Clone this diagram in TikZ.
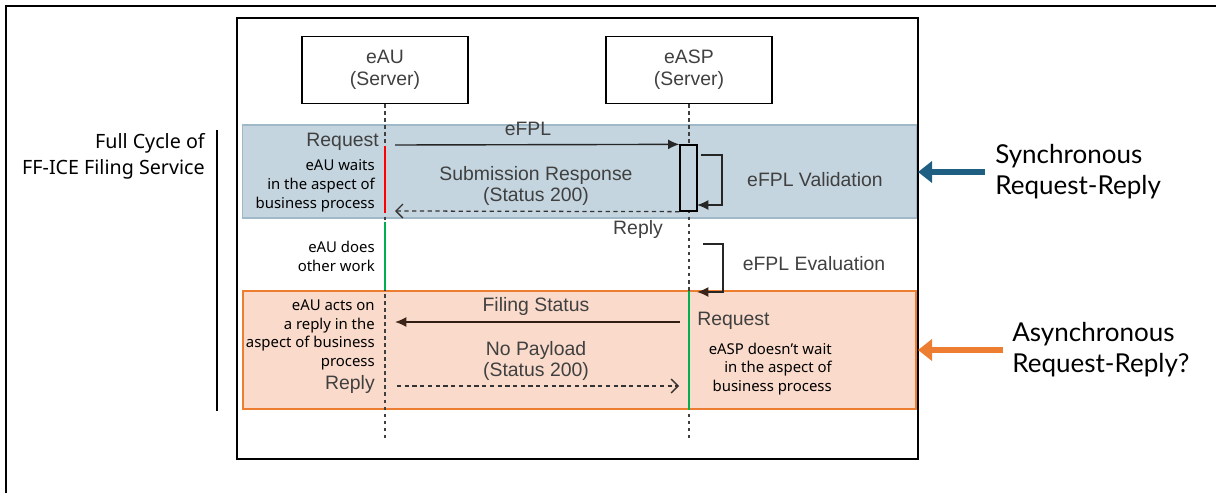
\documentclass[tikz,border=0pt]{standalone}
\usepackage{fontspec}
\setmainfont{Liberation Sans}
\newfontfamily\notefont{Noto Sans}
\newfontfamily\sidefont{Lato}
\usetikzlibrary{arrows.meta,positioning}
\definecolor{txtgray}{RGB}{64,64,64}
\definecolor{syncfill}{RGB}{196,213,223}
\definecolor{syncline}{RGB}{160,185,200}
\definecolor{asyncfill}{RGB}{250,219,203}
\definecolor{asyncline}{RGB}{237,125,49}
\definecolor{syncarrow}{RGB}{31,96,130}
\definecolor{headbrown}{RGB}{60,36,25}
\definecolor{waitred}{RGB}{255,0,0}
\definecolor{workgreen}{RGB}{0,176,80}
\begin{document}
\begin{tikzpicture}[x=0.025cm, y=-0.025cm,
    srv/.style={draw, line width=1pt, minimum width=4.15cm, minimum height=1.675cm,
      align=center, text=txtgray, font=\fontsize{13.8}{15.6}\selectfont},
    life/.style={draw=black!75, line width=1.1pt, dash pattern=on 2.5pt off 2.5pt},
    msg/.style={draw=black!85, line width=1pt, -{Latex[length=8pt, width=7pt]}},
    rep/.style={draw=black!80, line width=0.9pt, dash pattern=on 3pt off 2.5pt,
      -{Straight Barb[length=5pt, width=10pt]}},
    msgtxt/.style={inner sep=0pt, text=txtgray, align=center,
      font=\fontsize{13.8}{15.6}\selectfont},
    notetxt/.style={inner sep=0pt, align=right, font=\notefont\fontsize{10.6}{13.4}\selectfont},
    sidetxt/.style={inner sep=0pt, align=left, font=\sidefont\fontsize{18.5}{22}\selectfont},
    side/.style={line width=4.2pt, -{Triangle[length=10pt, width=15pt]}}]
  \useasboundingbox (0,0) rectangle (1216,493);

  % outer page lines and inner frame
  \draw[line width=1.4pt] (6,493) -- (6,6) -- (1216,6);
  \node[draw, line width=1.6pt, minimum width=17.025cm, minimum height=11.025cm, inner sep=0pt]
    (frame) at (577.5,238.5) {};

  % the two phases
  \node[draw=syncline, fill=syncfill, line width=0.8pt, minimum width=16.825cm,
    minimum height=2.325cm, inner sep=0pt] (sync) at (579.5,171.5) {};
  \node[draw=asyncline, fill=asyncfill, line width=1.3pt, minimum width=16.825cm,
    minimum height=2.95cm, inner sep=0pt] (async) at (579.5,350) {};

  % servers and lifelines
  \node[srv] (eau) at (385,70) {eAU\\(Server)};
  \node[srv] (easp) at (689,70) {eASP\\(Server)};
  \coordinate (eaubot) at (385,441);
  \coordinate (easpbot) at (689,441);
  \draw[life] (eau) -- (eaubot);
  \draw[life] (easp) -- (easpbot);

  % waiting / working marks
  \coordinate (redtop) at (385,146);
  \coordinate (redbot) at (385,213);
  \coordinate (grntop) at (385,222);
  \coordinate (grnbot) at (385,290);
  \coordinate (agrtop) at (689,291);
  \coordinate (agrbot) at (689,410);
  \draw[waitred, line width=2pt] (redtop) -- (redbot);
  \draw[workgreen, line width=2pt] (grntop) -- (grnbot);
  \draw[workgreen, line width=2pt] (agrtop) -- (agrbot);

  % synchronous part
  \node[draw, fill=syncfill, line width=0.9pt, minimum width=0.425cm, minimum height=1.65cm,
    inner sep=0pt] (act) at (688.5,178) {};
  \coordinate (reqa) at (395,145);
  \draw[msg] (reqa) -- (act.north west);
  \coordinate (va) at (701,155);
  \coordinate (vb) at (722,155);
  \coordinate (vc) at (722,205);
  \coordinate (vd) at (697,205);
  \draw[msg] (va) -- (vb) -- (vc) -- (vd);
  \coordinate (repa) at (395,211);
  \draw[rep] (act.south west) -- (repa);

  % evaluation
  \coordinate (ea) at (703,244);
  \coordinate (eb) at (723,244);
  \coordinate (ec) at (723,292);
  \coordinate (ed) at (697,292);
  \draw[msg, -{Latex[length=8pt, width=7pt, color=headbrown]}] (ea) -- (eb) -- (ec) -- (ed);

  % asynchronous part
  \coordinate (fsa) at (680,322);
  \coordinate (fsb) at (395,322);
  \draw[msg, draw=headbrown!80!black, -{Latex[length=8pt, width=7pt, color=headbrown]}] (fsa) -- (fsb);
  \coordinate (npa) at (397,386);
  \coordinate (npb) at (679,386);
  \draw[rep] (npa) -- (npb);

  % labels
  \node[msgtxt] (efpl) at (528,129) {eFPL};
  \node[msgtxt, anchor=east] (req1) at (379,142) {Request};
  \node[notetxt, anchor=east] (wait) at (375,186) {eAU waits\\in the aspect of\\business process};
  \node[msgtxt] (subresp) at (536,186) {Submission Response\\(Status 200)};
  \node[msgtxt] (valid) at (815,180) {eFPL Validation};
  \node[msgtxt] (reply1) at (638,229) {Reply};
  \node[notetxt, anchor=east] (other) at (375,256) {eAU does\\other work};
  \node[msgtxt] (eval) at (814,264) {eFPL Evaluation};
  \node[msgtxt] (filing) at (536,306) {Filing Status};
  \node[msgtxt, anchor=west] (req2) at (697,321) {Request};
  \node[msgtxt] (nopay) at (536,361) {No Payload\\(Status 200)};
  \node[notetxt, anchor=east] (acts) at (375,335) {eAU acts on\\a reply in the\\aspect of business\\process};
  \node[msgtxt, anchor=east] (reply2) at (375,384) {Reply};
  \node[notetxt, anchor=east] (nowait) at (832,369) {eASP doesn’t wait\\in the aspect of\\business process};

  % side notes
  \node[sidetxt, anchor=west] (synclbl) at (995,172) {Synchronous\\Request-Reply};
  \node[sidetxt, anchor=west] (asynclbl) at (1012,350) {Asynchronous\\Request-Reply?};
  \coordinate (syncpt) at (918,172);
  \coordinate (asyncpt) at (918,350);
  \draw[side, syncarrow] (synclbl.west) ++(-10,0) -- (syncpt);
  \draw[side, asyncline] (asynclbl.west) ++(-9,0) -- (asyncpt);

  % full cycle
  \node[notetxt, anchor=east, font=\notefont\fontsize{14}{18.5}\selectfont] (cycle) at (205,156)
    {Full Cycle of\\FF-ICE Filing Service};
  \coordinate (cyctop) at (217,130);
  \coordinate (cycbot) at (217,411);
  \draw[line width=1.8pt] (cyctop) -- (cycbot);
\end{tikzpicture}
\end{document}
